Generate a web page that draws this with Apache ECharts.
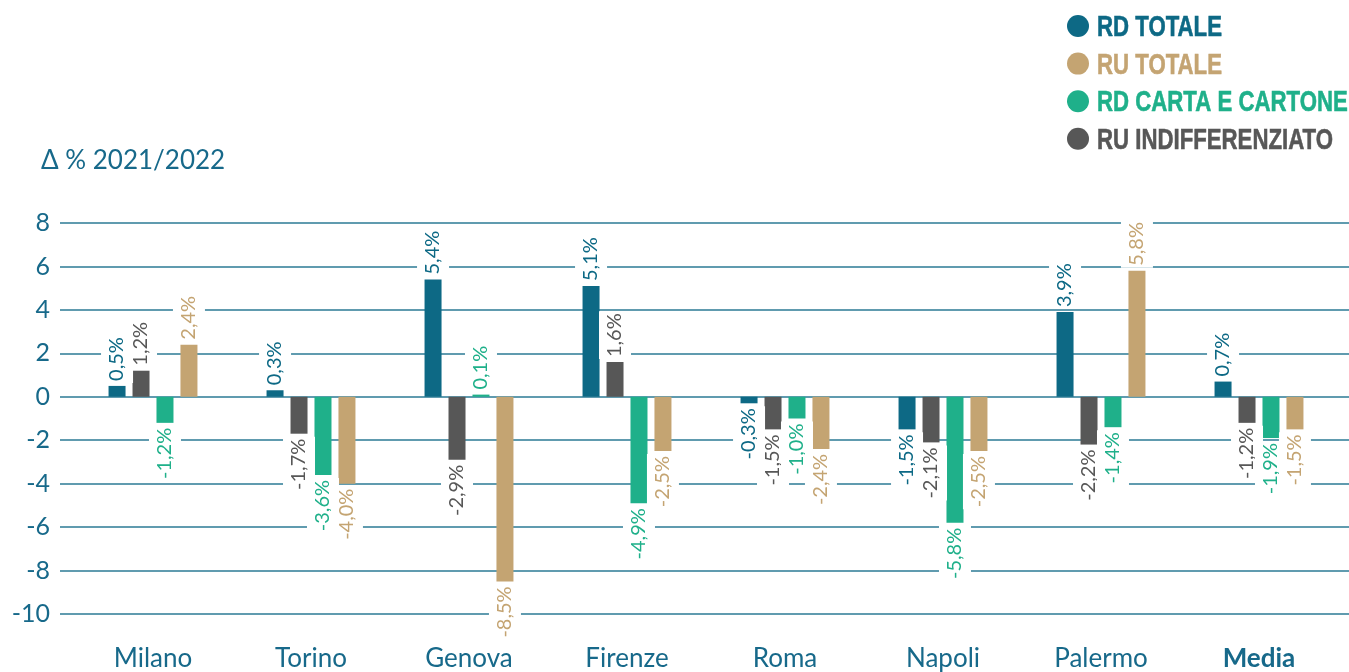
<!DOCTYPE html>
<html>
<head>
<meta charset="utf-8">
<script src="https://cdn.jsdelivr.net/npm/echarts@6/dist/echarts.min.js"></script>
<style>
  html, body { margin: 0; padding: 0; background: #fff; }
  #chart { width: 1349px; height: 672px; }
</style>
</head>
<body>
<div id="chart"></div>
<script>
// dati: variazione % 2021/2022
const cities = ['Milano', 'Torino', 'Genova', 'Firenze', 'Roma', 'Napoli', 'Palermo', 'Media'];
const rdTotale = [0.5, 0.3, 5.4, 5.1, -0.3, -1.5, 3.9, 0.7];
const ruIndiff = [1.2, -1.7, -2.9, 1.6, -1.5, -2.1, -2.2, -1.2];
const rdCarta = [-1.2, -3.6, 0.1, -4.9, -1.0, -5.8, -1.4, -1.9];
const ruTotale = [2.4, -4.0, -8.5, -2.5, -2.4, -2.5, 5.8, -1.5];

const BLUE = '#0d6985', GREY = '#575757', GREEN = '#1fb08a', TAN = '#c4a472';
const AXIS_TXT = '#17698a';
const FONT = 'Lato, "Open Sans", sans-serif';

// ordine della legenda (diverso dall'ordine delle barre)
const legendItems = [
    ['RD TOTALE', BLUE],
    ['RU TOTALE', TAN],
    ['RD CARTA E CARTONE', GREEN],
    ['RU INDIFFERENZIATO', GREY]
];

function fmt(v) {
    return v.toFixed(1).replace('.', ',') + '%';
}

// label sopra per i positivi, sotto per i negativi
function withLabels(arr) {
    return arr.map(function (v) {
        return {
            value: v,
            label: v >= 0
                ? { position: 'top', align: 'left' }
                : { position: 'bottom', align: 'right' }
        };
    });
}

function barSeries(name, arr, color) {
    return {
        name: name,
        type: 'bar',
        xAxisIndex: 1,
        yAxisIndex: 1,
        barWidth: 17,
        barGap: '41%',
        itemStyle: { color: color },
        label: {
            show: true,
            rotate: 90,
            verticalAlign: 'middle',
            distance: 3,
            color: color,
            fontFamily: FONT,
            fontSize: 20,
            backgroundColor: '#fff',
            padding: [6, 2, 6, 2],
            formatter: function (p) { return fmt(p.value); }
        },
        data: withLabels(arr)
    };
}

// legenda disegnata a mano: il font condensato non c'e'
function legendGraphic() {
    const els = [];
    legendItems.forEach(function (it, i) {
        const cy = 26 + i * 37.6;
        els.push({
            type: 'circle',
            shape: { cx: 1078, cy: cy, r: 11 },
            style: { fill: it[1] }
        });
        els.push({
            type: 'text',
            x: 1097,
            y: cy + 2,
            scaleX: 0.74,
            style: {
                text: it[0],
                fill: it[1],
                stroke: it[1],
                lineWidth: 0.6,
                font: 'bold 30px "Liberation Sans", Arial, sans-serif',
                verticalAlign: 'middle'
            }
        });
    });
    return els;
}

const chart = echarts.init(document.getElementById('chart'));

const option = {
    animation: false,
    title: {
        text: 'Δ % 2021/2022',
        left: 36,
        top: 143,
        textStyle: { color: AXIS_TXT, fontFamily: FONT, fontSize: 26, fontWeight: 'normal' }
    },
    graphic: legendGraphic(),
    grid: [
        // griglia lunga per le linee orizzontali
        { left: 60, right: 0, top: 223, bottom: 58 },
        // griglia delle barre
        { left: 74, width: 1264, top: 223, bottom: 58 }
    ],
    xAxis: [
        { type: 'value', gridIndex: 0, min: 0, max: 1, show: false },
        {
            type: 'category',
            gridIndex: 1,
            data: cities,
            axisLine: { show: false },
            axisTick: { show: false },
            axisLabel: {
                margin: 32,
                color: AXIS_TXT,
                fontFamily: FONT,
                fontSize: 26,
                formatter: function (v) { return v === 'Media' ? '{b|' + v + '}' : v; },
                rich: { b: { fontWeight: 'bold', fontSize: 26, color: AXIS_TXT, fontFamily: FONT } }
            }
        }
    ],
    yAxis: [
        {
            type: 'value',
            gridIndex: 0,
            min: -10,
            max: 8,
            interval: 2,
            axisLine: { show: false },
            axisTick: { show: false },
            axisLabel: { margin: 10, color: AXIS_TXT, fontFamily: FONT, fontSize: 25 },
            splitLine: { lineStyle: { color: '#2b7a94', width: 1.5 } }
        },
        {
            type: 'value',
            gridIndex: 1,
            min: -10,
            max: 8,
            interval: 2,
            show: false,
            splitLine: { show: false }
        }
    ],
    series: [
        barSeries('RD TOTALE', rdTotale, BLUE),
        barSeries('RU INDIFFERENZIATO', ruIndiff, GREY),
        barSeries('RD CARTA E CARTONE', rdCarta, GREEN),
        barSeries('RU TOTALE', ruTotale, TAN)
    ]
};

chart.setOption(option);
</script>
</body>
</html>
